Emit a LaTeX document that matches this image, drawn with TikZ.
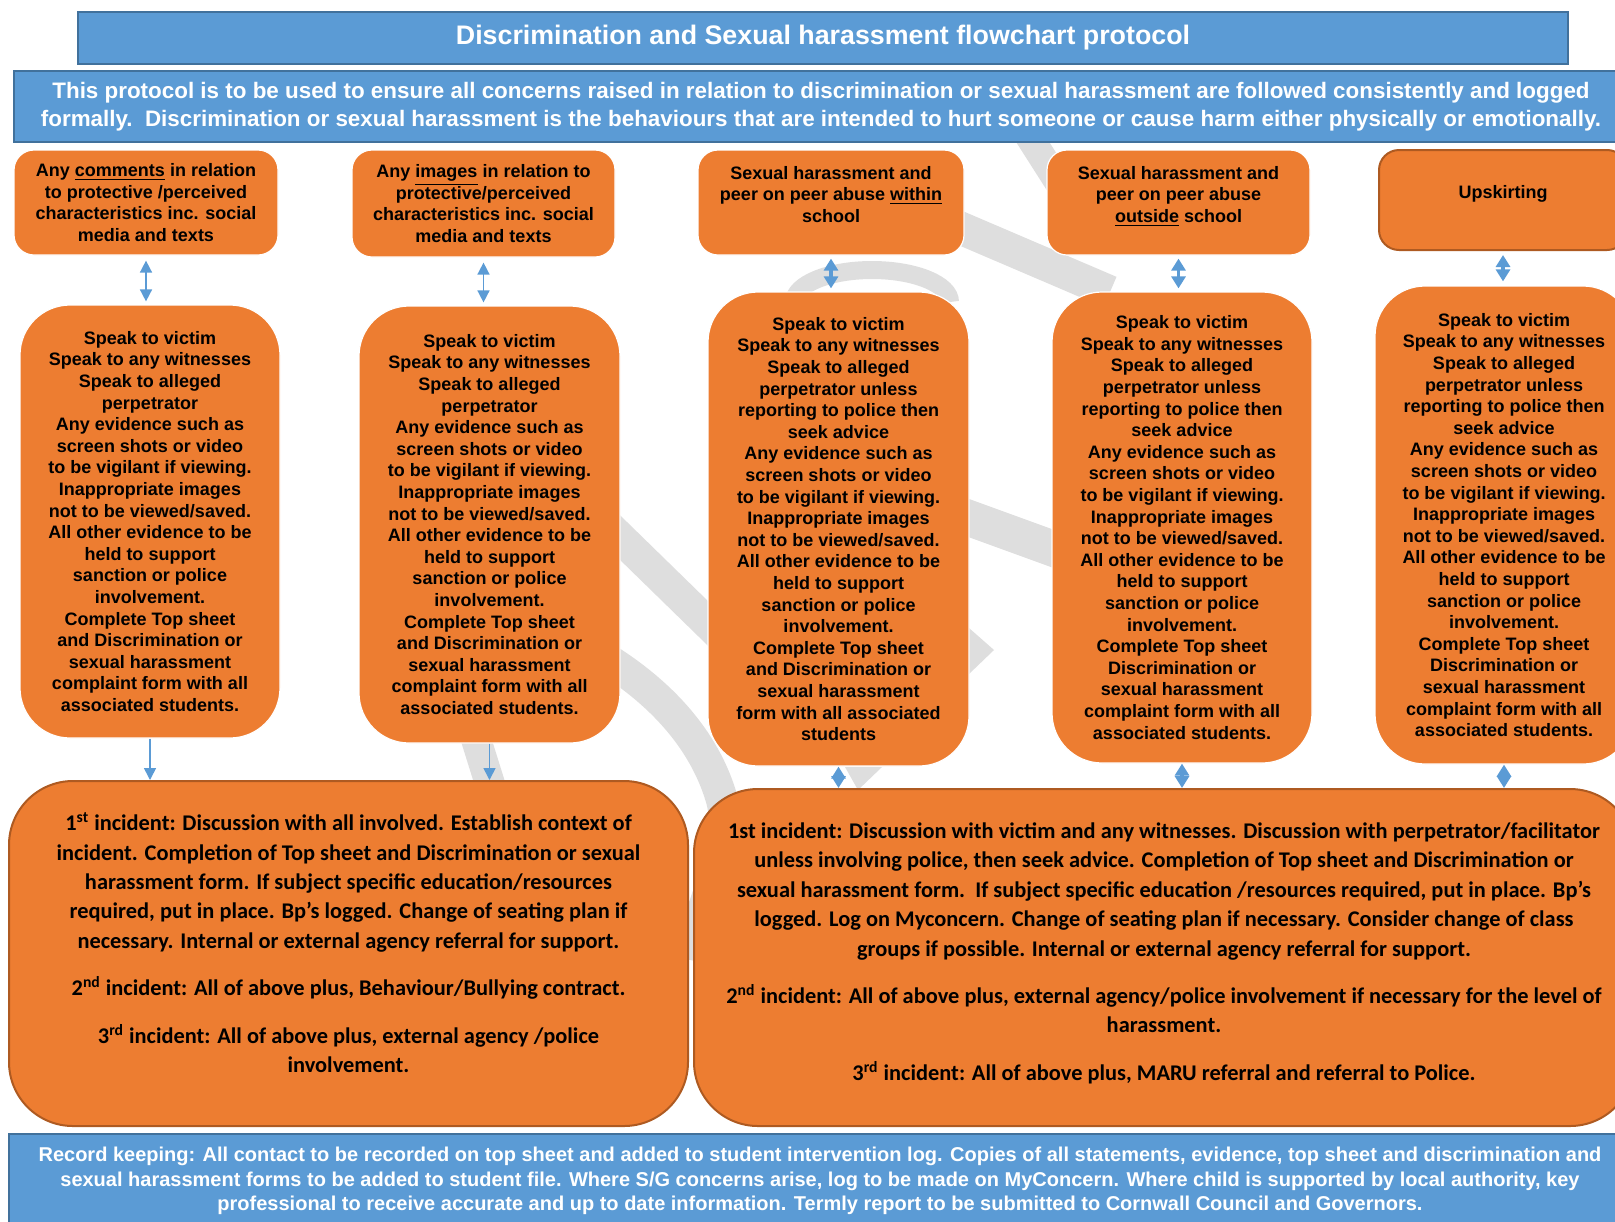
\documentclass[tikz,border=0pt]{standalone}
\usepackage{fontspec}
\setmainfont{Liberation Sans}
\newfontfamily\calibrifont{Carlito}
\usetikzlibrary{arrows.meta}

\definecolor{barblue}{HTML}{5B9BD5}
\definecolor{edgeblue}{HTML}{41719C}
\definecolor{boxorange}{HTML}{ED7D31}
\definecolor{edgeorange}{HTML}{AE5A21}
\definecolor{markgray}{HTML}{DEDEDE}

% shared lines of the middle row
\newcommand{\speaklines}{Speak to victim\\ Speak to any witnesses\\ Speak to alleged\\}
\newcommand{\evidencelines}{Any evidence such as\\ screen shots or video\\ to be vigilant if viewing.\\ Inappropriate images\\ not to be viewed/saved.\\ All other evidence to be\\ held to support\\ sanction or police\\ involvement.\\ Complete Top sheet\\}

\tikzset{
  banner/.style={draw=edgeblue, line width=1.2pt, fill=barblue, text=white,
    align=center, inner sep=0pt},
  casebox/.style={fill=boxorange, draw=white, line width=0.6pt, rounded corners=10pt,
    align=center, inner sep=0pt, font=\fontsize{9}{10.8}\selectfont\bfseries},
  actionbox/.style={casebox, rounded corners=25pt},
  outcomebox/.style={fill=boxorange, draw=edgeorange, line width=1pt, rounded corners=32pt,
    align=center, inner sep=0pt, font=\calibrifont\fontsize{11.2}{14.7}\selectfont\bfseries},
  thinlink/.style={draw=barblue, line width=0.8pt, -{Triangle[width=6pt,length=6pt]}},
  thinboth/.style={draw=barblue, line width=0.8pt,
    {Triangle[width=6pt,length=6pt]}-{Triangle[width=6pt,length=6pt]}},
  thicklink/.style={draw=barblue, line width=1.6pt,
    {Triangle[width=7pt,length=6pt]}-{Triangle[width=7pt,length=6pt]}},
}

\begin{document}
\begin{tikzpicture}[x=0.5pt, y=-0.5pt]
\useasboundingbox (0,0) rectangle (1615,1221);
\clip (0,0) rectangle (1615,1221);

% faint logo behind the boxes
\begin{scope}[draw=markgray, fill=markgray]
\draw[line width=14pt] (1025,130) -- (1062,188);
\draw[line width=16.5pt] (930,215) -- (1110,292);
\draw[line width=9pt] (794,302) arc[start angle=180, end angle=360, x radius=78, y radius=32];
\draw[line width=18pt] (955,513) -- (1065,553);
\fill (969,628) -- (994,650) -- (969,674) -- cycle;
\draw[line width=16pt] (600,518) -- (725,640);
\draw[line width=16pt] (595,652) .. controls (660,690) and (705,740) .. (722,800)
  .. controls (735,850) and (700,900) .. (690,960);
\fill (845,767) -- (882,767) -- (858,790) -- cycle;
\draw[line width=15pt] (470,720) -- (495,800);
\end{scope}

% banners
\node[banner, minimum width=745pt, minimum height=26pt,
  font=\fontsize{13.4}{16}\selectfont\bfseries] (title) at (823,38)
  {Discrimination and Sexual harassment flowchart protocol};
\node[banner, minimum width=807pt, minimum height=35.5pt,
  font=\fontsize{11.2}{13.9}\selectfont\bfseries] (aim) at (821,106.5)
  {This protocol is to be used to ensure all concerns raised in relation to discrimination or sexual harassment are followed consistently and logged\\
   formally.\ \ Discrimination or sexual harassment is the behaviours that are intended to hurt someone or cause harm either physically or emotionally.};

% concerns
\node[casebox, minimum width=132pt, minimum height=52.5pt] (comments) at (146,202.5)
  {Any \underline{comments} in relation\\ to protective /perceived\\ characteristics inc. social\\ media and texts};
\node[casebox, minimum width=131.5pt, minimum height=53.5pt] (images) at (483.5,203.5)
  {Any \underline{images} in relation to\\ protective/perceived\\ characteristics inc. social\\ media and texts};
\node[casebox, minimum width=133pt, minimum height=52.5pt, text depth=8.2pt] (within) at (831,202.5)
  {Sexual harassment and\\ peer on peer abuse \underline{within}\\ school};
\node[casebox, minimum width=131.5pt, minimum height=52.5pt, text depth=8.2pt] (outside) at (1178.5,202.5)
  {Sexual harassment and\\ peer on peer abuse\\ \underline{outside} school};
\node[casebox, draw=edgeorange, line width=1pt, minimum width=124pt, minimum height=50pt,
  text depth=8.2pt] (upskirt) at (1503,200)
  {Upskirting};

% actions
\node[actionbox, minimum width=130pt, minimum height=216.5pt] (actcomments) at (150,521.5)
  {\speaklines perpetrator\\ \evidencelines and Discrimination or\\ sexual harassment\\ complaint form with all\\ associated students.};
\node[actionbox, minimum width=130.5pt, minimum height=218.5pt] (actimages) at (489.5,524.5)
  {\speaklines perpetrator\\ \evidencelines and Discrimination or\\ sexual harassment\\ complaint form with all\\ associated students.};
\node[actionbox, minimum width=130.5pt, minimum height=237pt] (actwithin) at (838.5,529)
  {\speaklines perpetrator unless\\ reporting to police then\\ seek advice\\ \evidencelines and Discrimination or\\ sexual harassment\\ form with all associated\\ students};
\node[actionbox, minimum width=130pt, minimum height=235.5pt] (actoutside) at (1182,527.5)
  {\speaklines perpetrator unless\\ reporting to police then\\ seek advice\\ \evidencelines Discrimination or\\ sexual harassment\\ complaint form with all\\ associated students.};
\node[actionbox, minimum width=129pt, minimum height=239pt] (actupskirt) at (1504,525)
  {\speaklines perpetrator unless\\ reporting to police then\\ seek advice\\ \evidencelines Discrimination or\\ sexual harassment\\ complaint form with all\\ associated students.};

% outcomes
\node[outcomebox, minimum width=339.5pt, minimum height=172.5pt, text depth=10.8pt] (steps) at (348.5,953.5)
  {1\textsuperscript{st} incident: Discussion with all involved. Establish context of\\
   incident. Completion of Top sheet and Discrimination or sexual\\
   harassment form. If subject specific education/resources\\
   required, put in place. Bp’s logged. Change of seating plan if\\
   necessary. Internal or external agency referral for support.\\[9pt]
   2\textsuperscript{nd} incident: All of above plus, Behaviour/Bullying contract.\\[9pt]
   3\textsuperscript{rd} incident: All of above plus, external agency /police\\
   involvement.};
\node[outcomebox, minimum width=470pt, minimum height=168.5pt, text depth=6pt] (harmsteps) at (1164,957.5)
  {1st incident: Discussion with victim and any witnesses. Discussion with perpetrator/facilitator\\
   unless involving police, then seek advice. Completion of Top sheet and Discrimination or\\
   sexual harassment form.\ \ If subject specific education /resources required, put in place. Bp’s\\
   logged. Log on Myconcern. Change of seating plan if necessary. Consider change of class\\
   groups if possible. Internal or external agency referral for support.\\[9pt]
   2\textsuperscript{nd} incident: All of above plus, external agency/police involvement if necessary for the level of\\
   harassment.\\[9pt]
   3\textsuperscript{rd} incident: All of above plus, MARU referral and referral to Police.};

% record keeping
\node[banner, minimum width=811pt, minimum height=47pt,
  font=\fontsize{10}{12.4}\selectfont\bfseries] (records) at (820,1181)
  {Record keeping: All contact to be recorded on top sheet and added to student intervention log. Copies of all statements, evidence, top sheet and discrimination and\\
   sexual harassment forms to be added to student file. Where S/G concerns arise, log to be made on MyConcern. Where child is supported by local authority, key\\
   professional to receive accurate and up to date information. Termly report to be submitted to Cornwall Council and Governors.};

% links
\draw[thinboth, shorten <=2.5pt, shorten >=1.5pt] (comments.south) -- (comments.south |- actcomments.north);
\draw[thinboth, shorten <=2.5pt, shorten >=1.5pt] (images.south) -- (images.south |- actimages.north);
\draw[thicklink, shorten <=1.5pt, shorten >=1.5pt] (within.south) -- (within.south |- actwithin.north);
\draw[thicklink, shorten <=1.5pt, shorten >=1.5pt] (outside.south) -- (outside.south |- actoutside.north);
\draw[thicklink, shorten <=2pt, shorten >=2pt] (upskirt.south) -- (upskirt.south |- actupskirt.north);
\draw[thinlink] (actcomments.south) -- (actcomments.south |- steps.north);
\draw[thinlink] (actimages.south) -- (actimages.south |- steps.north);
\draw[thicklink] (actwithin.south) -- (actwithin.south |- harmsteps.north);
\draw[thicklink] (actoutside.south) -- (actoutside.south |- harmsteps.north);
\draw[thicklink] (actupskirt.south) -- (actupskirt.south |- harmsteps.north);
\end{tikzpicture}
\end{document}
